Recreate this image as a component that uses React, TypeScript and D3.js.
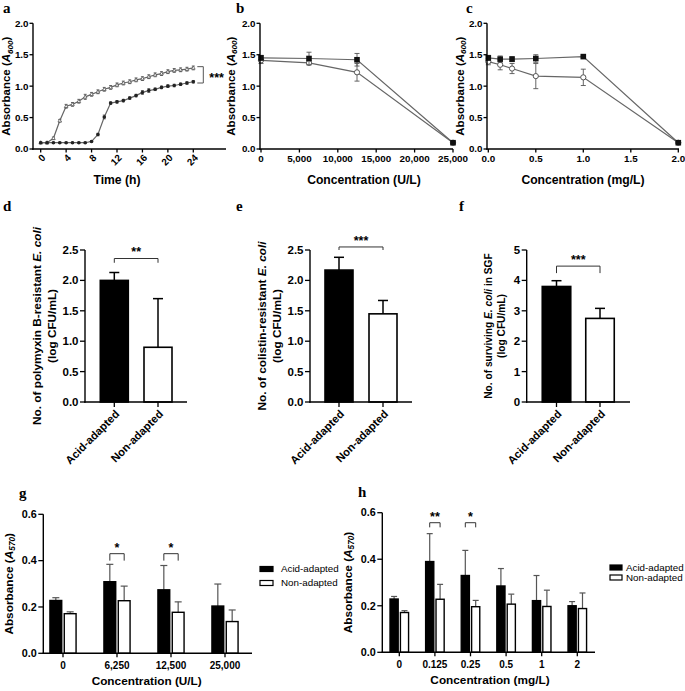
import React from "react";
import * as d3 from "d3";

const SANS = '"Liberation Sans", Arial, Helvetica, sans-serif';
const SERIF = '"Liberation Serif", "Times New Roman", serif';
const LINE_GRAY = "#666";
const ERR_GRAY = "#555";

// ---------- panel a : growth curves ----------
const timeHours = [0, 1, 2, 3, 4, 5, 6, 7, 8, 9, 10, 11, 12, 13, 14, 15, 16, 17, 18, 19, 20, 21, 22, 23, 24];
const growthEarly = [0.10, 0.10, 0.17, 0.45, 0.68, 0.71, 0.76, 0.83, 0.87, 0.91, 0.95, 0.98, 1.02, 1.05, 1.07, 1.10, 1.12, 1.15, 1.18, 1.20, 1.23, 1.25, 1.26, 1.27, 1.29];
const growthEarlyErr = [0.01, 0.01, 0.02, 0.02, 0.03, 0.03, 0.03, 0.04, 0.03, 0.03, 0.03, 0.03, 0.03, 0.03, 0.03, 0.03, 0.03, 0.03, 0.03, 0.03, 0.03, 0.03, 0.03, 0.03, 0.03];
const growthLate = [0.10, 0.10, 0.10, 0.10, 0.10, 0.10, 0.10, 0.10, 0.12, 0.23, 0.51, 0.73, 0.75, 0.77, 0.81, 0.85, 0.90, 0.93, 0.95, 0.98, 1.00, 1.01, 1.03, 1.05, 1.07];
const growthLateErr = [0.01, 0.01, 0.01, 0.01, 0.01, 0.01, 0.01, 0.01, 0.01, 0.02, 0.03, 0.02, 0.02, 0.02, 0.02, 0.02, 0.03, 0.03, 0.02, 0.02, 0.02, 0.02, 0.02, 0.02, 0.02];
const timeTicks = [0, 4, 8, 12, 16, 20, 24];
const absTicks = [0, 0.5, 1, 1.5, 2];

// ---------- panel b : polymyxin B MIC curve ----------
const concPolymyxin = [0, 6250, 12500, 25000];
const polyAcid = [1.45, 1.44, 1.42, 0.10];
const polyAcidErr = [0.04, 0.10, 0.10, 0.01];
const polyNon = [1.41, 1.37, 1.22, 0.10];
const polyNonErr = [0.05, 0.03, 0.14, 0.01];
const polyTicks = [0, 5000, 10000, 15000, 20000, 25000];

// ---------- panel c : colistin MIC curve ----------
const concColistin = [0, 0.125, 0.25, 0.5, 1, 2];
const colAcid = [1.45, 1.43, 1.43, 1.44, 1.47, 0.10];
const colAcidErr = [0.04, 0.05, 0.04, 0.06, 0.02, 0.01];
const colNon = [1.39, 1.34, 1.28, 1.16, 1.14, 0.10];
const colNonErr = [0.05, 0.08, 0.08, 0.20, 0.13, 0.01];
const colTicks = [0, 0.5, 1, 1.5, 2];

// ---------- panels d, e, f : two-bar charts ----------
const adaptCats = ["Acid-adapted", "Non-adapted"];
const dMeans = [2.0, 0.9];
const dErr = [0.13, 0.8];
const eMeans = [2.17, 1.45];
const eErr = [0.21, 0.22];
const fMeans = [3.8, 2.75];
const fErr = [0.19, 0.33];
const deTicks = [0, 0.5, 1, 1.5, 2, 2.5];
const fTicks = [0, 1, 2, 3, 4, 5];

// ---------- panels g, h : grouped bars ----------
const gConc = ["0", "6,250", "12,500", "25,000"];
const gAcid = [0.228, 0.309, 0.274, 0.204];
const gAcidErr = [0.012, 0.075, 0.105, 0.095];
const gNon = [0.171, 0.227, 0.177, 0.137];
const gNonErr = [0.008, 0.063, 0.045, 0.05];
const hConc = ["0", "0.125", "0.25", "0.5", "1", "2"];
const hAcid = [0.229, 0.39, 0.33, 0.285, 0.222, 0.2];
const hAcidErr = [0.011, 0.12, 0.108, 0.075, 0.108, 0.018];
const hNon = [0.171, 0.228, 0.196, 0.207, 0.197, 0.188];
const hNonErr = [0.008, 0.064, 0.027, 0.043, 0.07, 0.067];
const ghTicks = [0, 0.2, 0.4, 0.6];
const legendLabels = ["Acid-adapted", "Non-adapted"];

// significance annotations (value-space heights)
const sigD = { text: "**", y: 2.36, drop: 2.29 };
const sigE = { text: "***", y: 2.55, drop: 2.5 };
const sigF = { text: "***", y: 4.47, drop: 4.24 };
const sigG = [
  { cat: "6,250", text: "*", y: 0.43, drop: 0.4 },
  { cat: "12,500", text: "*", y: 0.43, drop: 0.4 },
];
const sigH = [
  { cat: "0.125", text: "**", y: 0.557, drop: 0.537 },
  { cat: "0.25", text: "*", y: 0.557, drop: 0.537 },
];

// ---------- helpers ----------
type Lin = d3.ScaleLinear<number, number>;

function YAxis({ x, scale, ticks, fmt, fontSize, tickLen, gap }: { x: number; scale: Lin; ticks: number[]; fmt: (v: number) => string; fontSize: number; tickLen: number; gap: number }) {
  const [d0, d1] = scale.domain();
  return (
    <g>
      <line x1={x} x2={x} y1={scale(d0) + 0.7} y2={scale(d1)} stroke="#000" strokeWidth={1.4} />
      {ticks.map((t) => (
        <g key={t}>
          <line x1={x - tickLen} x2={x} y1={scale(t)} y2={scale(t)} stroke="#000" strokeWidth={1.3} />
          <text x={x - gap} y={scale(t)} dy="0.35em" textAnchor="end" fontSize={fontSize} fontWeight="bold" fontFamily={SANS}>
            {fmt(t)}
          </text>
        </g>
      ))}
    </g>
  );
}

function AbsLabel({ x, y, sub, size }: { x: number; y: number; sub: string; size: number }) {
  return (
    <text transform={`translate(${x},${y}) rotate(-90)`} textAnchor="middle" fontSize={size} fontWeight="bold" fontFamily={SANS}>
      Absorbance (<tspan fontStyle="italic">A</tspan>
      <tspan fontStyle="italic" fontSize={size * 0.7} dy={2.8}>{sub}</tspan>
      <tspan dy={-2.8}>)</tspan>
    </text>
  );
}

function Letter({ x, y, c }: { x: number; y: number; c: string }) {
  return (
    <text x={x} y={y} fontFamily={SERIF} fontWeight="bold" fontSize={15}>
      {c}
    </text>
  );
}

type Series = { values: number[]; err: number[]; marker: "square" | "openCircle" | "dot" | "openTri" };

function Marker({ kind, x, y }: { kind: Series["marker"]; x: number; y: number }) {
  if (kind === "square") return <rect x={x - 2.8} y={y - 2.8} width={5.6} height={5.6} fill="#111" />;
  if (kind === "openCircle") return <circle cx={x} cy={y} r={2.6} fill="#fff" stroke="#555" strokeWidth={1} />;
  if (kind === "dot") return <circle cx={x} cy={y} r={1.8} fill="#222" />;
  return <path d={`M${x},${y - 2}L${x + 1.8},${y + 1.3}L${x - 1.8},${y + 1.3}Z`} fill="#fff" stroke="#555" strokeWidth={0.8} />;
}

function LinePanel(props: {
  xs: number[];
  series: Series[];
  xScale: Lin;
  yScale: Lin;
  axisX: number;
  xEnd: number;
  xTicks: number[];
  xFmt: (v: number) => string;
  rotate: boolean;
  xLabel: string;
  xLabelX: number;
  yLabelX: number;
  cap: number;
}) {
  const { xs, series, xScale, yScale, axisX, xEnd, xTicks, xFmt, rotate, xLabel, xLabelX, yLabelX, cap } = props;
  const y0 = yScale(0);
  return (
    <g>
      {series.map((s, si) => {
        const line = d3
          .line<number>()
          .x((_, i) => xScale(xs[i]))
          .y((v) => yScale(v));
        return (
          <g key={si}>
            <path d={line(s.values) || ""} fill="none" stroke={LINE_GRAY} strokeWidth={1.2} />
            {s.values.map((v, i) => {
              const x = xScale(xs[i]);
              const yt = yScale(v + s.err[i]);
              const yb = yScale(v - s.err[i]);
              return (
                <g key={i} stroke={ERR_GRAY} strokeWidth={0.9}>
                  <line x1={x} x2={x} y1={yt} y2={yb} />
                  <line x1={x - cap} x2={x + cap} y1={yt} y2={yt} />
                  <line x1={x - cap} x2={x + cap} y1={yb} y2={yb} />
                </g>
              );
            })}
            {s.values.map((v, i) => (
              <Marker key={"m" + i} kind={s.marker} x={xScale(xs[i])} y={yScale(v)} />
            ))}
          </g>
        );
      })}
      <YAxis x={axisX} scale={yScale} ticks={absTicks} fmt={d3.format(".1f")} fontSize={9.8} tickLen={3.5} gap={4.5} />
      <line x1={axisX - 0.7} x2={xEnd} y1={y0} y2={y0} stroke="#000" strokeWidth={1.4} />
      {xTicks.map((t) => (
        <g key={t}>
          <line x1={xScale(t)} x2={xScale(t)} y1={y0} y2={y0 + 3.5} stroke="#000" strokeWidth={1.3} />
          {rotate ? (
            <text
              transform={`translate(${xScale(t) + 3},${y0 + 7}) rotate(-45)`}
              textAnchor="end"
              dy="0.35em"
              fontSize={9.8}
              fontWeight="bold"
              fontFamily={SANS}
            >
              {xFmt(t)}
            </text>
          ) : (
            <text x={xScale(t)} y={y0 + 13} textAnchor="middle" fontSize={9.8} fontWeight="bold" fontFamily={SANS}>
              {xFmt(t)}
            </text>
          )}
        </g>
      ))}
      <text x={xLabelX} y={183.5} textAnchor="middle" fontSize={12.2} fontWeight="bold" fontFamily={SANS}>
        {xLabel}
      </text>
      <AbsLabel x={yLabelX} y={(yScale(0) + yScale(2)) / 2} sub="600" size={11.5} />
    </g>
  );
}

function TwoBarPanel(props: {
  means: number[];
  errs: number[];
  yScale: Lin;
  ticks: number[];
  fmt: (v: number) => string;
  axisX: number;
  xEnd: number;
  centers: [number, number];
  bw: number;
  sig: { text: string; y: number; drop: number };
  label1: React.ReactNode;
  labelX: [number, number];
  labelFont: number;
}) {
  const { means, errs, yScale, ticks, fmt, axisX, xEnd, centers, bw, sig, label1, labelX, labelFont } = props;
  const xp = d3.scalePoint<string>().domain(adaptCats).range(centers);
  const y0 = yScale(0);
  const midY = (yScale(yScale.domain()[0]) + yScale(yScale.domain()[1])) / 2;
  const c0 = xp(adaptCats[0]) as number;
  const c1 = xp(adaptCats[1]) as number;
  return (
    <g>
      {adaptCats.map((c, i) => {
        const cx = xp(c) as number;
        const top = yScale(means[i] + errs[i]);
        return (
          <g key={c}>
            <line x1={cx} x2={cx} y1={yScale(means[i])} y2={top} stroke="#000" strokeWidth={1.5} />
            <line x1={cx - 5} x2={cx + 5} y1={top} y2={top} stroke="#000" strokeWidth={1.5} />
            <rect
              x={cx - bw / 2}
              y={yScale(means[i])}
              width={bw}
              height={y0 - yScale(means[i])}
              fill={i === 0 ? "#000" : "#fff"}
              stroke="#000"
              strokeWidth={1.6}
            />
          </g>
        );
      })}
      <YAxis x={axisX} scale={yScale} ticks={ticks} fmt={fmt} fontSize={11.5} tickLen={5} gap={6.5} />
      <line x1={axisX - 0.7} x2={xEnd} y1={y0} y2={y0} stroke="#000" strokeWidth={1.5} />
      {adaptCats.map((c) => {
        const cx = xp(c) as number;
        return (
          <g key={c}>
            <line x1={cx} x2={cx} y1={y0} y2={y0 + 5} stroke="#000" strokeWidth={1.3} />
            <text
              transform={`translate(${cx + 3},${y0 + 10}) rotate(-45)`}
              textAnchor="end"
              dy="0.35em"
              fontSize={11.2}
              fontWeight="bold"
              fontFamily={SANS}
            >
              {c}
            </text>
          </g>
        );
      })}
      <path
        d={`M${c0},${yScale(sig.drop)}V${yScale(sig.y)}H${c1}V${yScale(sig.drop)}`}
        fill="none"
        stroke="#333"
        strokeWidth={1}
      />
      <text x={(c0 + c1) / 2} y={yScale(sig.y) - 4} textAnchor="middle" fontSize={12.5} fontWeight="bold" fontFamily={SANS} dy="0.15em">
        {sig.text}
      </text>
      <text transform={`translate(${labelX[0]},${midY}) rotate(-90)`} textAnchor="middle" fontSize={labelFont} fontWeight="bold" fontFamily={SANS}>
        {label1}
      </text>
      <text transform={`translate(${labelX[1]},${midY}) rotate(-90)`} textAnchor="middle" fontSize={labelFont} fontWeight="bold" fontFamily={SANS}>
        (log CFU/mL)
      </text>
    </g>
  );
}

function GroupPanel(props: {
  cats: string[];
  acid: number[];
  acidErr: number[];
  non: number[];
  nonErr: number[];
  yScale: Lin;
  axisX: number;
  xEnd: number;
  range: [number, number];
  pIn: number;
  sigs: { cat: string; text: string; y: number; drop: number }[];
  xLabel: string;
  xLabelX: number;
  yLabelX: number;
  legendX: number;
  legendTextX: number;
  legendY: [number, number];
  legendW: number;
  cap: number;
}) {
  const { cats, acid, acidErr, non, nonErr, yScale, axisX, xEnd, range, pIn, sigs, xLabel, xLabelX, yLabelX, legendX, legendTextX, legendY, legendW, cap } = props;
  const x0 = d3.scaleBand<string>().domain(cats).range(range).paddingInner(pIn).paddingOuter(pIn / 2);
  const x1 = d3.scaleBand<string>().domain(legendLabels).range([0, x0.bandwidth()]).paddingInner(0.08);
  const y0 = yScale(0);
  const series = [
    { key: legendLabels[0], v: acid, e: acidErr, fill: "#000" },
    { key: legendLabels[1], v: non, e: nonErr, fill: "#fff" },
  ];
  return (
    <g>
      {cats.map((c, ci) => (
        <g key={c}>
          {series.map((s) => {
            const bx = (x0(c) as number) + (x1(s.key) as number);
            const w = x1.bandwidth();
            const cx = bx + w / 2;
            const top = yScale(s.v[ci] + s.e[ci]);
            return (
              <g key={s.key}>
                <line x1={cx} x2={cx} y1={yScale(s.v[ci])} y2={top} stroke="#555" strokeWidth={1.2} />
                <line x1={cx - cap} x2={cx + cap} y1={top} y2={top} stroke="#555" strokeWidth={1.2} />
                <rect x={bx + 0.7} y={yScale(s.v[ci])} width={w - 1.4} height={y0 - yScale(s.v[ci])} fill={s.fill} stroke="#000" strokeWidth={1.4} />
              </g>
            );
          })}
        </g>
      ))}
      {sigs.map((s) => {
        const b = x0(s.cat) as number;
        const ca = b + (x1(legendLabels[0]) as number) + x1.bandwidth() / 2;
        const cn = b + (x1(legendLabels[1]) as number) + x1.bandwidth() / 2;
        return (
          <g key={s.cat}>
            <path d={`M${ca},${yScale(s.drop)}V${yScale(s.y)}H${cn}V${yScale(s.drop)}`} fill="none" stroke="#333" strokeWidth={1} />
            <text x={(ca + cn) / 2} y={yScale(s.y) - 3.5} textAnchor="middle" fontSize={12.5} fontWeight="bold" fontFamily={SANS} dy="0.15em">
              {s.text}
            </text>
          </g>
        );
      })}
      <YAxis x={axisX} scale={yScale} ticks={ghTicks} fmt={d3.format(".1f")} fontSize={10.8} tickLen={5} gap={6.5} />
      <line x1={axisX - 0.7} x2={xEnd} y1={y0} y2={y0} stroke="#000" strokeWidth={1.5} />
      {cats.map((c) => {
        const cx = (x0(c) as number) + x0.bandwidth() / 2;
        return (
          <g key={c}>
            <line x1={cx} x2={cx} y1={y0} y2={y0 + 4} stroke="#000" strokeWidth={1.3} />
            <text x={cx} y={y0 + 16} textAnchor="middle" fontSize={10} fontWeight="bold" fontFamily={SANS}>
              {c}
            </text>
          </g>
        );
      })}
      <text x={xLabelX} y={y0 + 32} textAnchor="middle" fontSize={11.8} fontWeight="bold" fontFamily={SANS}>
        {xLabel}
      </text>
      <AbsLabel x={yLabelX} y={(yScale(0) + yScale(0.6)) / 2} sub="570" size={11.8} />
      {series.map((s, i) => (
        <g key={s.key}>
          <rect x={legendX} y={legendY[i] - 2.5} width={legendW} height={5} fill={s.fill} stroke="#000" strokeWidth={1.2} />
          <text x={legendTextX} y={legendY[i]} dy="0.35em" fontSize={9.8} fontFamily={SANS}>
            {s.key}
          </text>
        </g>
      ))}
    </g>
  );
}

export default function App() {
  // row 1 scales
  const yRow1 = d3.scaleLinear().domain([0, 2]).range([149, 23.3]);
  const xA = d3.scaleLinear().domain([0, 24]).range([40.7, 193.3]);
  const xB = d3.scaleLinear().domain([0, 25000]).range([261, 453]);
  const xC = d3.scaleLinear().domain([0, 2]).range([488.3, 678.3]);
  // row 2
  const yDE = d3.scaleLinear().domain([0, 2.5]).range([402, 250]);
  const yF = d3.scaleLinear().domain([0, 5]).range([402, 250]);
  // row 3
  const yG = d3.scaleLinear().domain([0, 0.6]).range([653.3, 514.3]);
  const yH = d3.scaleLinear().domain([0, 0.6]).range([652.3, 512.7]);

  return (
    <>
      <style>{`body{margin:0;background:#fff}`}</style>
      <svg width={685} height={691} viewBox="0 0 685 691" style={{ display: "block" }}>
        <rect width={685} height={691} fill="#fff" />
        {/* a */}
        <Letter x={3} y={13} c="a" />
        <LinePanel
          xs={timeHours}
          series={[
            { values: growthEarly, err: growthEarlyErr, marker: "openTri" },
            { values: growthLate, err: growthLateErr, marker: "dot" },
          ]}
          xScale={xA}
          yScale={yRow1}
          axisX={33}
          xEnd={226}
          xTicks={timeTicks}
          xFmt={d3.format("d")}
          rotate={true}
          xLabel="Time (h)"
          xLabelX={117}
          yLabelX={10}
          cap={1.5}
        />
        <path
          d={`M${xA(24) + 4},${yRow1(1.31)}H${xA(24) + 10}V${yRow1(1.05)}H${xA(24) + 4}`}
          fill="none"
          stroke="#555"
          strokeWidth={1}
        />
        <text x={xA(24) + 16} y={yRow1(1.18)} dy="0.55em" fontSize={12.5} fontWeight="bold" fontFamily={SANS}>
          ***
        </text>

        {/* b */}
        <Letter x={236} y={13} c="b" />
        <LinePanel
          xs={concPolymyxin}
          series={[
            { values: polyNon, err: polyNonErr, marker: "openCircle" },
            { values: polyAcid, err: polyAcidErr, marker: "square" },
          ]}
          xScale={xB}
          yScale={yRow1}
          axisX={260}
          xEnd={453}
          xTicks={polyTicks}
          xFmt={d3.format(",")}
          rotate={false}
          xLabel="Concentration (U/L)"
          xLabelX={364}
          yLabelX={234.5}
          cap={2.5}
        />

        {/* c */}
        <Letter x={466} y={13} c="c" />
        <LinePanel
          xs={concColistin}
          series={[
            { values: colNon, err: colNonErr, marker: "openCircle" },
            { values: colAcid, err: colAcidErr, marker: "square" },
          ]}
          xScale={xC}
          yScale={yRow1}
          axisX={487}
          xEnd={679}
          xTicks={colTicks}
          xFmt={d3.format(".1f")}
          rotate={false}
          xLabel="Concentration (mg/L)"
          xLabelX={583}
          yLabelX={463.5}
          cap={2.5}
        />

        {/* d */}
        <Letter x={3} y={211} c="d" />
        <TwoBarPanel
          means={dMeans}
          errs={dErr}
          yScale={yDE}
          ticks={deTicks}
          fmt={d3.format(".1f")}
          axisX={85}
          xEnd={187}
          centers={[114.3, 158]}
          bw={28}
          sig={sigD}
          label1={
            <>
              No. of polymyxin B-resistant <tspan fontStyle="italic">E. coli</tspan>
            </>
          }
          labelX={[41, 56]}
          labelFont={11.8}
        />

        {/* e */}
        <Letter x={236} y={211} c="e" />
        <TwoBarPanel
          means={eMeans}
          errs={eErr}
          yScale={yDE}
          ticks={deTicks}
          fmt={d3.format(".1f")}
          axisX={310}
          xEnd={412}
          centers={[339, 383]}
          bw={28}
          sig={sigE}
          label1={
            <>
              No. of colistin-resistant <tspan fontStyle="italic">E. coli</tspan>
            </>
          }
          labelX={[265.5, 280.5]}
          labelFont={11.8}
        />

        {/* f */}
        <Letter x={459} y={211} c="f" />
        <TwoBarPanel
          means={fMeans}
          errs={fErr}
          yScale={yF}
          ticks={fTicks}
          fmt={d3.format("d")}
          axisX={526.7}
          xEnd={630}
          centers={[556.5, 600]}
          bw={28.5}
          sig={sigF}
          label1={
            <>
              No. of surviving <tspan fontStyle="italic">E. coli</tspan> in SGF
            </>
          }
          labelX={[492, 504.5]}
          labelFont={10.2}
        />

        {/* g */}
        <Letter x={19} y={498} c="g" />
        <GroupPanel
          cats={gConc}
          acid={gAcid}
          acidErr={gAcidErr}
          non={gNon}
          nonErr={gNonErr}
          yScale={yG}
          axisX={43.3}
          xEnd={252}
          range={[36, 252]}
          pIn={0.49}
          sigs={sigG}
          xLabel="Concentration (U/L)"
          xLabelX={146.7}
          yLabelX={12.5}
          legendX={260}
          legendTextX={281}
          legendY={[569, 583]}
          legendW={13}
          cap={3.5}
        />

        {/* h */}
        <Letter x={358} y={497} c="h" />
        <GroupPanel
          cats={hConc}
          acid={hAcid}
          acidErr={hAcidErr}
          non={hNon}
          nonErr={hNonErr}
          yScale={yH}
          axisX={382.3}
          xEnd={595}
          range={[381.5, 595.1]}
          pIn={0.44}
          sigs={sigH}
          xLabel="Concentration (mg/L)"
          xLabelX={490}
          yLabelX={351.5}
          legendX={610}
          legendTextX={626}
          legendY={[567.5, 577.5]}
          legendW={12}
          cap={3}
        />
      </svg>
    </>
  );
}
